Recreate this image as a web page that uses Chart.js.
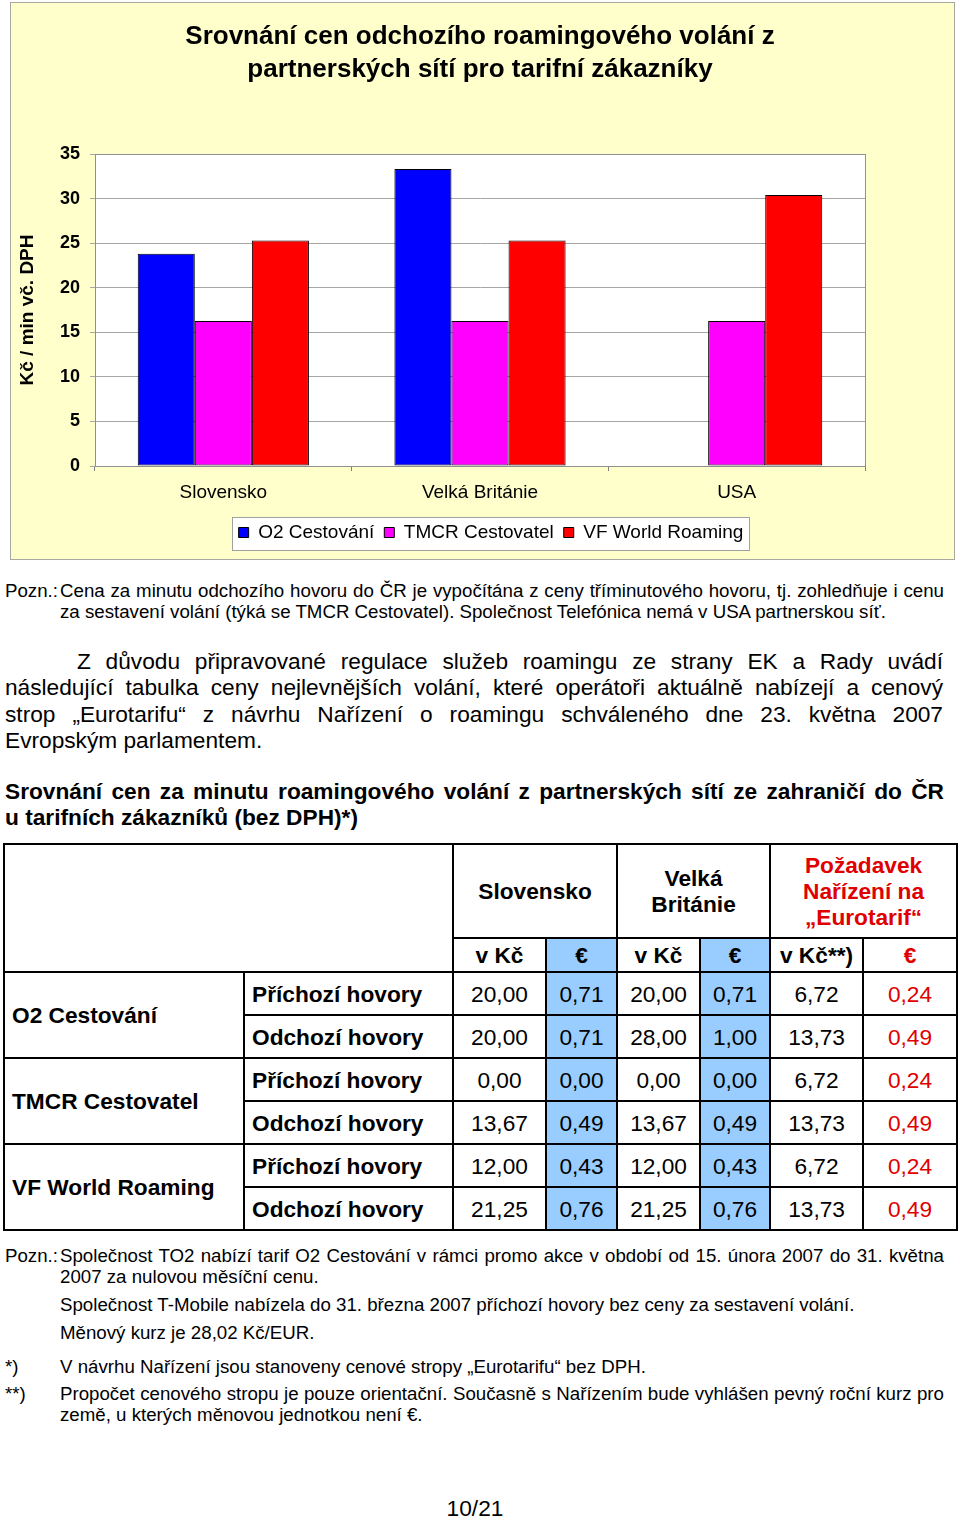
<!DOCTYPE html>
<html>
<head>
<meta charset="utf-8">
<script src="https://cdn.jsdelivr.net/npm/chart.js@4.4.1/dist/chart.umd.min.js"></script>
<style>
html,body{margin:0;padding:0;background:#fff;}
body{width:960px;height:1518px;position:relative;overflow:hidden;font-family:"Liberation Sans",Arial,sans-serif;color:#000;}
#frame{position:absolute;left:10px;top:2px;width:943px;height:556px;background:#FFFFCC;border:1px solid #A8A8A0;}
#chart{position:absolute;left:0;top:0;}
.abs{position:absolute;}
.j{white-space:nowrap;text-align:justify;text-align-last:justify;}
.l{white-space:nowrap;}
.small{font-size:18.7px;line-height:21px;}
.big{font-size:22.7px;line-height:26.3px;}
table{position:absolute;left:3px;top:843px;border-collapse:collapse;table-layout:fixed;width:953px;font-size:22.7px;line-height:26px;}
td{border:2px solid #000;padding:0 6px;text-align:center;vertical-align:middle;white-space:nowrap;overflow:hidden;}
td.lft{text-align:left;padding-left:7px;}
.b{font-weight:bold;}
.eu{background:#99CCFF;}
.r{color:#E00000;}
</style>
</head>
<body>
<div id="frame"></div>
<canvas id="chart" width="960" height="565"></canvas>

<div class="abs small" style="left:5px;top:580px;">Pozn.:</div>
<div class="abs small" style="left:60px;top:580px;width:884px;">
  <div class="j">Cena za minutu odchozího hovoru do ČR je vypočítána z ceny tříminutového hovoru, tj. zohledňuje i cenu</div>
  <div class="l">za sestavení volání (týká se TMCR Cestovatel). Společnost Telefónica nemá v USA partnerskou síť.</div>
</div>

<div class="abs big" style="left:5px;top:648px;width:938px;">
  <div class="j" style="padding-left:72px;">Z důvodu připravované regulace služeb roamingu ze strany EK a Rady uvádí</div>
  <div class="j">následující tabulka ceny nejlevnějších volání, které operátoři aktuálně nabízejí a cenový</div>
  <div class="j">strop „Eurotarifu“ z návrhu Nařízení o roamingu schváleného dne 23. května 2007</div>
  <div class="l">Evropským parlamentem.</div>
</div>

<div class="abs big b" style="left:5px;top:778px;width:939px;line-height:26px;">
  <div class="j">Srovnání cen za minutu roamingového volání z partnerských sítí ze zahraničí do ČR</div>
  <div class="l">u tarifních zákazníků (bez DPH)*)</div>
</div>

<table id="tbl">
  <colgroup>
    <col style="width:240px"><col style="width:209px"><col style="width:93px"><col style="width:71px">
    <col style="width:83px"><col style="width:70px"><col style="width:93px"><col style="width:94px">
  </colgroup>
  <tbody id="tbody">
    <tr style="height:94px">
      <td colspan="2" rowspan="2"></td>
      <td colspan="2" class="b">Slovensko</td>
      <td colspan="2" class="b">Velká<br>Británie</td>
      <td colspan="2" class="b r">Požadavek<br>Nařízení na<br>„Eurotarif“</td>
    </tr>
    <tr style="height:34px">
      <td class="b">v Kč</td><td class="b eu">€</td><td class="b">v Kč</td><td class="b eu">€</td><td class="b">v Kč**)</td><td class="b r">€</td>
    </tr>
  </tbody>
</table>

<div class="abs small" style="left:5px;top:1245px;">Pozn.:</div>
<div class="abs small" style="left:60px;top:1245px;width:884px;">
  <div class="j">Společnost TO2 nabízí tarif O2 Cestování v rámci promo akce v období od 15. února 2007 do 31. května</div>
  <div class="l">2007 za nulovou měsíční cenu.</div>
</div>
<div class="abs small l" style="left:60px;top:1294px;">Společnost T-Mobile nabízela do 31. března 2007 příchozí hovory bez ceny za sestavení volání.</div>
<div class="abs small l" style="left:60px;top:1322px;">Měnový kurz je 28,02 Kč/EUR.</div>
<div class="abs small" style="left:5px;top:1356px;">*)</div>
<div class="abs small l" style="left:60px;top:1356px;">V návrhu Nařízení jsou stanoveny cenové stropy „Eurotarifu“ bez DPH.</div>
<div class="abs small" style="left:5px;top:1383px;">**)</div>
<div class="abs small" style="left:60px;top:1383px;width:884px;">
  <div class="j">Propočet cenového stropu je pouze orientační. Současně s Nařízením bude vyhlášen pevný roční kurz pro</div>
  <div class="l">země, u kterých měnovou jednotkou není €.</div>
</div>
<div class="abs big" style="left:420px;top:1495px;width:110px;text-align:center;">10/21</div>

<script>
// ---- chart data ----
const categories = ['Slovensko', 'Velká Británie', 'USA'];
const seriesNames = ['O2 Cestování', 'TMCR Cestovatel', 'VF World Roaming'];
const o2Values = [23.8, 33.32, null];
const tmcrValues = [16.27, 16.27, 16.27];
const vfValues = [25.29, 25.29, 30.4];
const seriesColors = ['#0000FF', '#FF00FF', '#FF0000'];
const titleLines = ['Srovnání cen odchozího roamingového volání z', 'partnerských sítí pro tarifní zákazníky'];
const yAxisTitle = 'Kč / min vč. DPH';

// ---- table data ----
const operators = ['O2 Cestování', 'TMCR Cestovatel', 'VF World Roaming'];
const callTypes = ['Příchozí hovory', 'Odchozí hovory'];
const skKc = [['20,00', '20,00'], ['0,00', '13,67'], ['12,00', '21,25']];
const skEur = [['0,71', '0,71'], ['0,00', '0,49'], ['0,43', '0,76']];
const ukKc = [['20,00', '28,00'], ['0,00', '13,67'], ['12,00', '21,25']];
const ukEur = [['0,71', '1,00'], ['0,00', '0,49'], ['0,43', '0,76']];
const capKc = ['6,72', '13,73'];
const capEur = ['0,24', '0,49'];

const tbody = document.getElementById('tbody');
operators.forEach((op, i) => {
  callTypes.forEach((ct, k) => {
    const tr = document.createElement('tr');
    tr.style.height = '43px';
    let html = '';
    if (k === 0) html += '<td rowspan="2" class="lft b">' + op + '</td>';
    html += '<td class="lft b">' + ct + '</td>';
    html += '<td>' + skKc[i][k] + '</td><td class="eu">' + skEur[i][k] + '</td>';
    html += '<td>' + ukKc[i][k] + '</td><td class="eu">' + ukEur[i][k] + '</td>';
    html += '<td>' + capKc[k] + '</td><td class="r">' + capEur[k] + '</td>';
    tr.innerHTML = html;
    tbody.appendChild(tr);
  });
});

const FONT = '"Liberation Sans", Arial, sans-serif';
Chart.defaults.font.family = FONT;

const framePlugin = {
  id: 'framePlugin',
  afterLayout(chart) {
    const lg = chart.legend;
    if (lg) { lg.left += 11; lg.right += 11; }
  },
  beforeDraw(chart) {
    const {ctx, chartArea: a} = chart;
    ctx.save();
    ctx.fillStyle = '#FFFFFF';
    ctx.fillRect(a.left, a.top, a.right - a.left, a.bottom - a.top);
    const hb = chart.legend && chart.legend.legendHitBoxes;
    if (hb && hb.length) {
      const first = hb[0], last = hb[hb.length - 1];
      const x0 = Math.round(first.left - 7), x1 = Math.round(last.left + last.width + 6);
      const y0 = Math.round(first.top - 6);
      ctx.fillStyle = '#FFFFFF';
      ctx.fillRect(x0, y0, x1 - x0, 33);
      ctx.strokeStyle = '#A0A0A0';
      ctx.lineWidth = 1;
      ctx.strokeRect(x0 + 0.5, y0 + 0.5, x1 - x0, 33);
    }
    ctx.restore();
  },
  beforeDatasetsDraw(chart) {
    const {ctx, chartArea: a} = chart;
    ctx.save();
    ctx.strokeStyle = '#909090';
    ctx.lineWidth = 1;
    ctx.strokeRect(Math.round(a.left) + 0.5, Math.round(a.top) + 0.5, Math.round(a.right - a.left), Math.round(a.bottom - a.top));
    ctx.restore();
  }
};

new Chart(document.getElementById('chart'), {
  type: 'bar',
  data: {
    labels: categories,
    datasets: [
      {label: seriesNames[0], data: o2Values, backgroundColor: seriesColors[0], borderColor: '#000', borderWidth: 1, borderSkipped: false},
      {label: seriesNames[1], data: tmcrValues, backgroundColor: seriesColors[1], borderColor: '#000', borderWidth: 1, borderSkipped: false},
      {label: seriesNames[2], data: vfValues, backgroundColor: seriesColors[2], borderColor: '#000', borderWidth: 1, borderSkipped: false}
    ]
  },
  options: {
    responsive: false,
    animation: false,
    devicePixelRatio: 1,
    layout: {padding: {left: 10, right: 95, top: 0, bottom: 13}},
    datasets: {bar: {categoryPercentage: 0.667, barPercentage: 1}},
    scales: {
      x: {
        grid: {display: true, drawOnChartArea: false, tickLength: 5, color: '#808080', offset: true},
        border: {display: true, color: '#808080'},
        ticks: {font: {size: 19}, color: '#000', padding: 10, maxRotation: 0},
        afterFit(s) { s.height = 47; }
      },
      y: {
        min: 0, max: 35,
        ticks: {stepSize: 5, font: {size: 18, weight: 'bold'}, color: '#000', padding: 10},
        grid: {color: '#A6A6A6', tickLength: 5},
        border: {display: true, color: '#808080'},
        title: {display: true, text: yAxisTitle, font: {size: 19, weight: 'bold'}, color: '#000', padding: {top: 6, bottom: 0}},
        afterFit(s) { s.width = 85; }
      }
    },
    plugins: {
      title: {display: true, text: titleLines, fullSize: false, color: '#000',
        font: {size: 26, weight: 'bold', lineHeight: 33 / 26}, padding: {top: 20, bottom: 68}},
      legend: {display: true, position: 'bottom', fullSize: false,
        labels: {font: {size: 19}, color: '#000', boxWidth: 10, boxHeight: 10, padding: 10}},
      tooltip: {enabled: false}
    }
  },
  plugins: [framePlugin]
});
</script>
</body>
</html>
